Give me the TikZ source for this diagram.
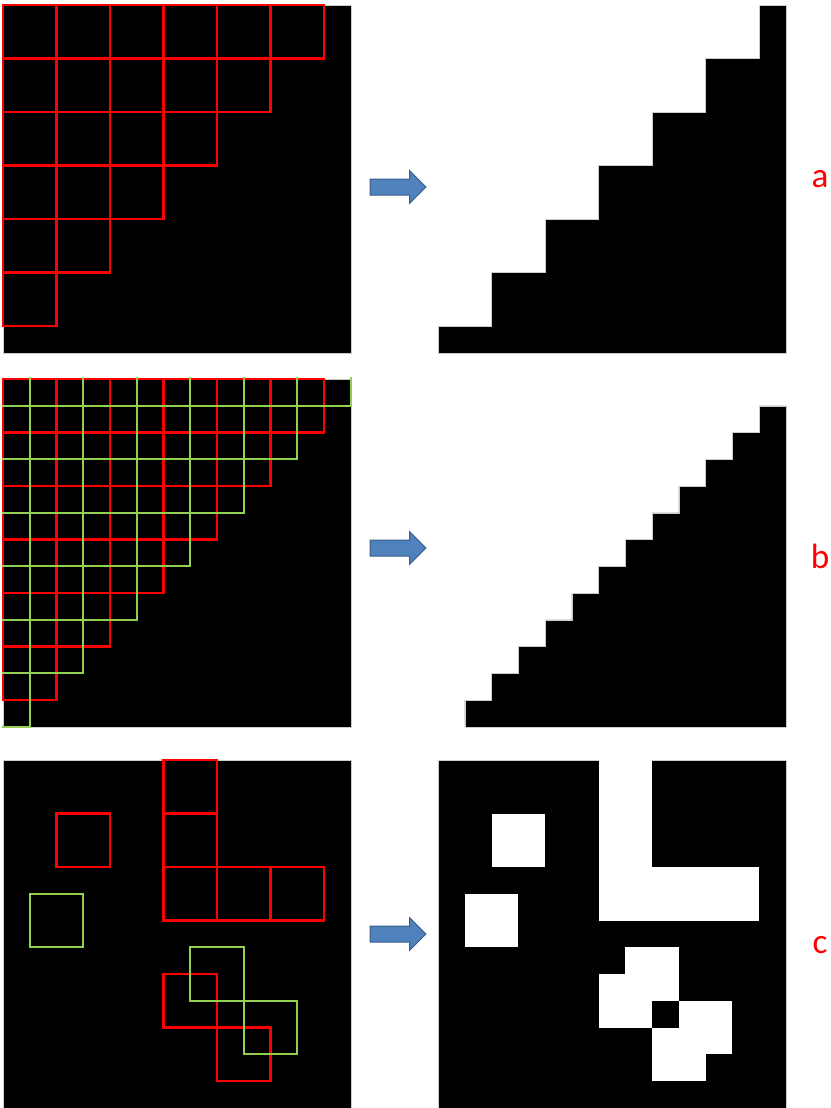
\documentclass[tikz,border=0pt]{standalone}
\usepackage{fontspec}
\newfontfamily\labelfont{Carlito}
\usepackage{tikz}
\usetikzlibrary{shapes.arrows}

\definecolor{cellgreen}{RGB}{146,208,80}
\definecolor{arrowblue}{RGB}{79,129,189}
\definecolor{arrowedge}{RGB}{56,93,138}

\begin{document}
\begin{tikzpicture}[
  x=0.03cm, y=-0.03cm,
  img/.style={fill=black, draw=gray!40, line width=0.015cm},
  hole/.style={fill=white},
  redcell/.style={draw=red, line width=0.07cm},
  greencell/.style={draw=cellgreen, line width=0.07cm},
  panel/.style={x=1.605cm, y=-1.605cm},
  blockarrow/.style={single arrow, fill=arrowblue, draw=arrowedge,
    line width=0.03cm, inner sep=0pt, minimum height=1.68cm,
    text height=0.225cm, text depth=0.225cm,
    single arrow head extend=0.255cm, single arrow tip angle=90},
  tag/.style={font=\labelfont\fontsize{30}{32}\selectfont, text=red, anchor=base},
]
  \useasboundingbox (0,0) rectangle (831,1108);

  % a
  \begin{scope}[shift={(3,5)}, panel]
    \fill[img] (0,0) rectangle (6.5,6.5);
    \foreach \r in {0,...,5}{
      \pgfmathtruncatemacro\last{5-\r}
      \foreach \c in {0,...,\last}
        \draw[redcell] (\c,\r) rectangle ++(1,1);
    }
  \end{scope}
  \begin{scope}[shift={(438,5)}, panel]
    \fill[img] (6.5,6.5) -- (0,6.5)
      \foreach \k in {0,...,5}{ -- (\k,6-\k) -- (\k+1,6-\k) }
      -- (6,0) -- (6.5,0) -- cycle;
  \end{scope}

  % b
  \begin{scope}[shift={(3,379)}, panel]
    \fill[img] (0,0) rectangle (6.5,6.5);
    \foreach \r in {0,...,5}{
      \pgfmathtruncatemacro\last{5-\r}
      \foreach \c in {0,...,\last}
        \draw[redcell] (\c,\r) rectangle ++(1,1);
    }
    \begin{scope}
      \clip (-0.02,-0.02) rectangle (6.52,6.52);
      \foreach \r in {0,...,6}{
        \pgfmathtruncatemacro\last{6-\r}
        \foreach \c in {0,...,\last}
          \draw[greencell] (\c-0.5,\r-0.5) rectangle ++(1,1);
      }
    \end{scope}
  \end{scope}
  \begin{scope}[shift={(438,379)}, panel]
    \fill[img] (6.5,6.5) -- (0.5,6.5)
      \foreach \k in {0,...,11}{ -- (0.5+0.5*\k,6-0.5*\k) -- (1+0.5*\k,6-0.5*\k) }
      -- cycle;
  \end{scope}

  % c
  \begin{scope}[shift={(3,760)}, panel]
    \fill[img] (0,0) rectangle (6.5,6.5);
    \foreach \p in {(1,1),(3,0),(3,1),(3,2),(4,2),(5,2),(3,4),(4,5)}
      \draw[redcell] \p rectangle ++(1,1);
    \foreach \p in {(0.5,2.5),(3.5,3.5),(4.5,4.5)}
      \draw[greencell] \p rectangle ++(1,1);
  \end{scope}
  \begin{scope}[shift={(438,760)}, panel]
    \fill[img] (0,0) rectangle (6.5,6.5);
    \foreach \p in {(1,1),(3,0),(3,1),(3,2),(4,2),(5,2),(3,4),(4,5),
                    (0.5,2.5),(3.5,3.5),(4.5,4.5)}
      \fill[hole] \p rectangle ++(1,1);
  \end{scope}

  \node[blockarrow] (arra) at (394,187) {};
  \node[blockarrow] (arrb) at (394,548) {};
  \node[blockarrow] (arrc) at (394,934) {};

  \node[tag] (taga) at (820,187) {a};
  \node[tag] (tagb) at (820,568) {b};
  \node[tag] (tagc) at (820,953) {c};
\end{tikzpicture}
\end{document}
